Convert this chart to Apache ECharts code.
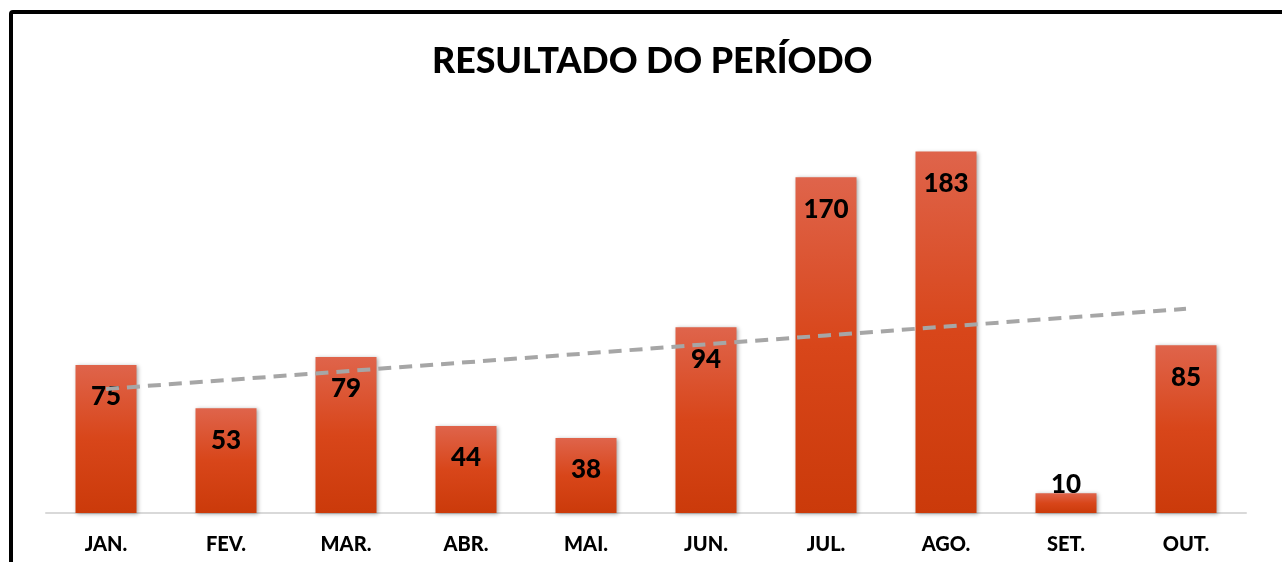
<!DOCTYPE html>
<html>
<head>
<meta charset="utf-8">
<script src="https://cdn.jsdelivr.net/npm/echarts@6/dist/echarts.min.js"></script>
<style>
html,body{margin:0;padding:0;background:#fff;}
#c{width:1282px;height:562px;}
</style>
</head>
<body>
<div id="c"></div>
<script>
const titleText = 'RESULTADO DO PERÍODO';
const categories = ['JAN.', 'FEV.', 'MAR.', 'ABR.', 'MAI.', 'JUN.', 'JUL.', 'AGO.', 'SET.', 'OUT.'];
const values = [75, 53, 79, 44, 38, 94, 170, 183, 10, 85];
// dashed linear trend line
const trend = [62.8, 67.3, 71.8, 76.3, 80.8, 85.4, 89.9, 94.4, 98.9, 103.4];

const FONT = 'Lato';
const chart = echarts.init(document.getElementById('c'), null, {renderer: 'canvas'});

const barData = values.map(v => {
  const small = v < 20;
  return {
    value: v,
    label: small
      ? {position: 'top', distance: -4}
      : {position: 'insideTop', distance: 19}
  };
});

chart.setOption({
  animation: false,
  backgroundColor: '#ffffff',
  title: {
    text: titleText,
    left: 427,
    top: 38,
    textStyle: {fontFamily: FONT, fontWeight: 900, fontSize: 35.7, color: '#000'}
  },
  graphic: [{
    type: 'rect',
    shape: {x: 11, y: 12, width: 1300, height: 600, r: 2},
    style: {fill: 'none', stroke: '#000', lineWidth: 4},
    z: 100
  }],
  grid: {left: 46, right: 36, top: 118, bottom: 49},
  xAxis: {
    type: 'category',
    data: categories,
    axisLine: {show: true, lineStyle: {color: '#d9d9d9', width: 2}},
    axisTick: {show: false},
    axisLabel: {fontFamily: FONT, fontWeight: 900, fontSize: 20, color: '#000', margin: 22}
  },
  yAxis: {
    type: 'value',
    min: 0,
    max: 200,
    show: false,
    splitLine: {show: false}
  },
  series: [{
    type: 'bar',
    data: barData,
    barWidth: 61,
    itemStyle: {
      color: new echarts.graphic.LinearGradient(0, 0, 0, 1, [
        {offset: 0, color: '#DF644B'},
        {offset: 0.5, color: '#D8461A'},
        {offset: 1, color: '#CB3A0A'}
      ]),
      shadowBlur: 4,
      shadowColor: 'rgba(0,0,0,0.35)',
      shadowOffsetX: 1,
      shadowOffsetY: 1
    },
    label: {
      show: true,
      fontFamily: FONT,
      fontWeight: 900,
      fontSize: 26,
      color: '#000'
    },
    z: 2
  }, {
    type: 'line',
    data: trend,
    symbol: 'none',
    lineStyle: {color: '#A6A6A6', width: 4, type: [13, 8]},
    z: 3,
    silent: true
  }]
});
</script>
</body>
</html>
